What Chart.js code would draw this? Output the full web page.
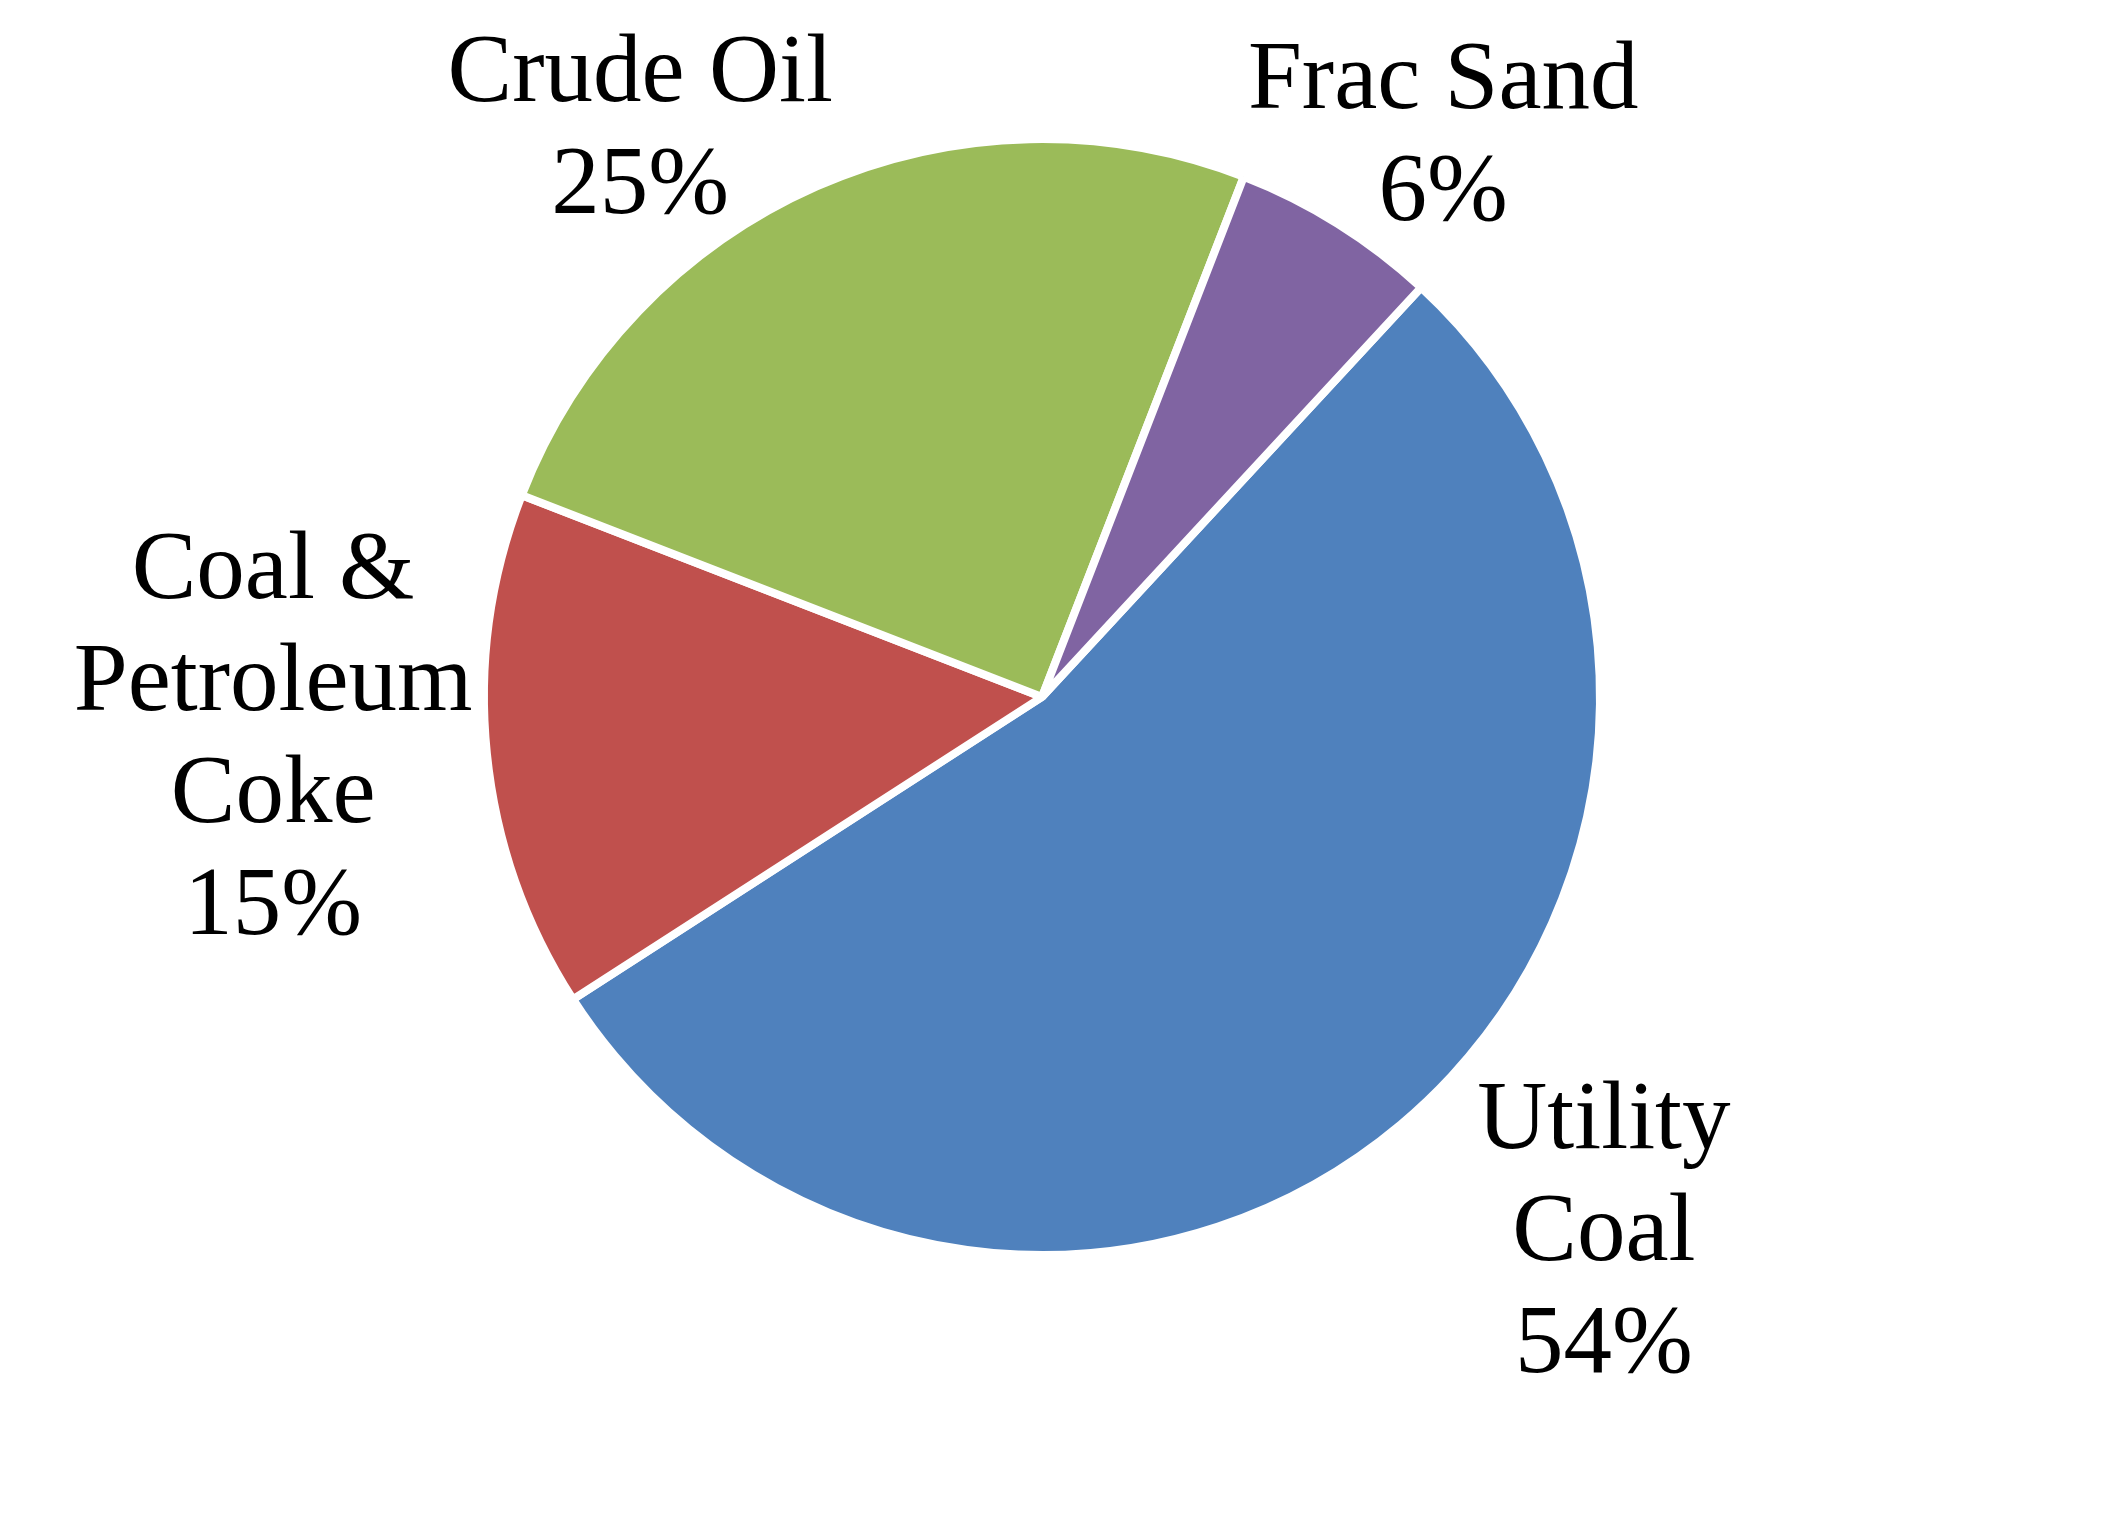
<!DOCTYPE html>
<html lang="en">
<head>
<meta charset="UTF-8">
<title>Volume by commodity</title>
<script src="https://cdn.jsdelivr.net/npm/chart.js@4.4.0/dist/chart.umd.min.js"></script>
<style>
  * { box-sizing: border-box; margin: 0; padding: 0; }
  body { background: #ffffff; width: 2112px; height: 1533px; overflow: hidden; }
  #wrap { position: relative; width: 2112px; height: 1533px; }
</style>
</head>
<body>
<div id="wrap"><canvas id="pie" width="2112" height="1533"></canvas></div>

<script>
// ── data ─────────────────────────────────────────────
const labels = ['Utility Coal', 'Coal & Petroleum Coke', 'Crude Oil', 'Frac Sand']
const values = [54, 15, 25, 6]
const colors = ['#4F81BD', '#C0504D', '#9BBB59', '#8064A2']

// label lines as broken in the picture
const labelLines = [['Utility', 'Coal'], ['Coal &', 'Petroleum', 'Coke'], ['Crude Oil'], ['Frac Sand']]
// label block centre, offset from pie centre in units of radius
const labelPos = [[1.007, 0.952], [-1.378, 0.066], [-0.72, -1.026], [0.719, -1.013]]

const FONT_PX = 97
const LINE_H  = 112

const labelPlugin = {
  id: 'sliceLabels',
  afterDatasetsDraw(chart) {
    const { ctx } = chart
    const meta = chart.getDatasetMeta(0)
    const total = values.reduce((a, b) => a + b, 0)
    ctx.save()
    ctx.fillStyle = '#000000'
    ctx.font = `${FONT_PX}px "Liberation Serif", "Times New Roman", serif`
    ctx.textAlign = 'center'
    ctx.textBaseline = 'alphabetic'
    meta.data.forEach((arc, i) => {
      const r = arc.outerRadius
      const cx = arc.x + labelPos[i][0] * r
      const cy = arc.y + labelPos[i][1] * r
      const lines = [...labelLines[i], Math.round(values[i] / total * 100) + '%']
      const first = cy - (lines.length - 1) * LINE_H / 2 + FONT_PX * 0.33
      lines.forEach((t, k) => ctx.fillText(t, cx, first + k * LINE_H))
    })
    ctx.restore()
  }
}

new Chart(document.getElementById('pie'), {
  type: 'pie',
  data: {
    labels,
    datasets: [{
      data: values,
      backgroundColor: colors,
      borderColor: '#ffffff',
      borderWidth: 8,
    }]
  },
  options: {
    responsive: false,
    animation: false,
    rotation: 42.8,
    layout: { padding: { left: 480, right: 508, top: 135, bottom: 274 } },
    plugins: { legend: { display: false }, tooltip: { enabled: false } }
  },
  plugins: [labelPlugin]
})
</script>
</body>
</html>
